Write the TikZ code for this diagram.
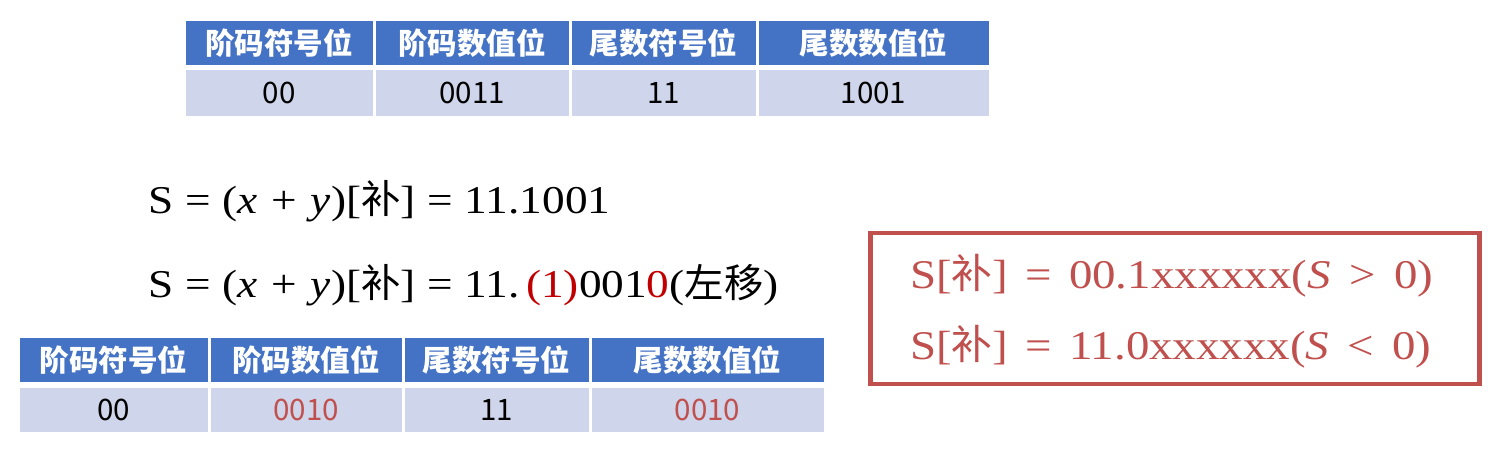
\documentclass[tikz,border=0pt]{standalone}
\usepackage{fontspec}
\setmainfont[FakeStretch=1.15]{Liberation Serif}
\newfontfamily\cjk{Noto Sans CJK SC}
\definecolor{hdblue}{RGB}{68,114,196}
\definecolor{bdgray}{RGB}{207,213,234}
\definecolor{boxred}{RGB}{192,80,77}
\definecolor{numred}{RGB}{192,0,0}
\newcommand\eqs[1][0.42em]{\hspace{#1}=\hspace{#1}}
\newcommand\opsp[2][0.45em]{\hspace{#1}#2\hspace{#1}}

\begin{document}
\begin{tikzpicture}[x=0.025cm,y=-0.025cm,
    cell/.style={inner sep=0pt,font=\cjk\fontsize{21}{21}\selectfont},
    hd/.style={cell,fill=hdblue,text=white,font=\cjk\bfseries\fontsize{21}{21}\selectfont},
    bd/.style={cell,fill=bdgray},
    eq/.style={anchor=base west,inner sep=0pt,font=\fontsize{28}{28}\selectfont},
    boxeq/.style={eq,text=boxred,font=\fontsize{29}{29}\selectfont}]
  \useasboundingbox (0,0) rectangle (1492,460) ;
  % table before the shift
  \foreach \a/\b/\h/\v [count=\i] in {184/374/阶码符号位/00, 374/570/阶码数值位/0011,
      570/757/尾数符号位/11, 757/990/尾数数值位/1001}{
    \node[hd,minimum width={(\b-\a-3)*0.025cm},minimum height=1.1cm] (th\i) at ({(\a+\b)/2},43) {\h} ;
    \node[bd,minimum width={(\b-\a-3)*0.025cm},minimum height=1.15cm] (tb\i) at ({(\a+\b)/2},93) {\v} ;
  }
  % sums
  \node[eq] (s1) at (148,213) {S\eqs[0.3em](\textit{x}\opsp[0.35em]{+}\textit{y})[{\cjk 补}]\eqs[0.3em]11.1001} ;
  \node[eq] (s2) at (148,297) {S\eqs[0.3em](\textit{x}\opsp[0.35em]{+}\textit{y})[{\cjk 补}]\eqs[0.3em]11.\,\textcolor{numred}{(1)}001\textcolor{numred}{0}({\cjk 左移})} ;
  % table after the shift
  \foreach \a/\b/\h/\v [count=\i] in {18/209/阶码符号位/00, 209/403/阶码数值位/{\textcolor{boxred}{0010}},
      403/590/尾数符号位/11, 590/825/尾数数值位/{\textcolor{boxred}{0010}}}{
    \node[hd,minimum width={(\b-\a-3)*0.025cm},minimum height=1.1cm] (bh\i) at ({(\a+\b)/2},360) {\h} ;
    \node[bd,minimum width={(\b-\a-3)*0.025cm},minimum height=1.1cm] (bb\i) at ({(\a+\b)/2},410) {\v} ;
  }
  % normalised forms
  \node[draw=boxred,line width=3.5pt,minimum width=15.24cm,minimum height=3.775cm] (rule) at (1175,308.5) {} ;
  \node[boxeq] (pos) at (910,288) {S[{\cjk 补}]\eqs 00.1xxxxxx(\textit{S}\opsp{>}0)} ;
  \node[boxeq] (neg) at (910,359) {S[{\cjk 补}]\eqs 11.0xxxxxx(\textit{S}\opsp{<}0)} ;
\end{tikzpicture}
\end{document}
